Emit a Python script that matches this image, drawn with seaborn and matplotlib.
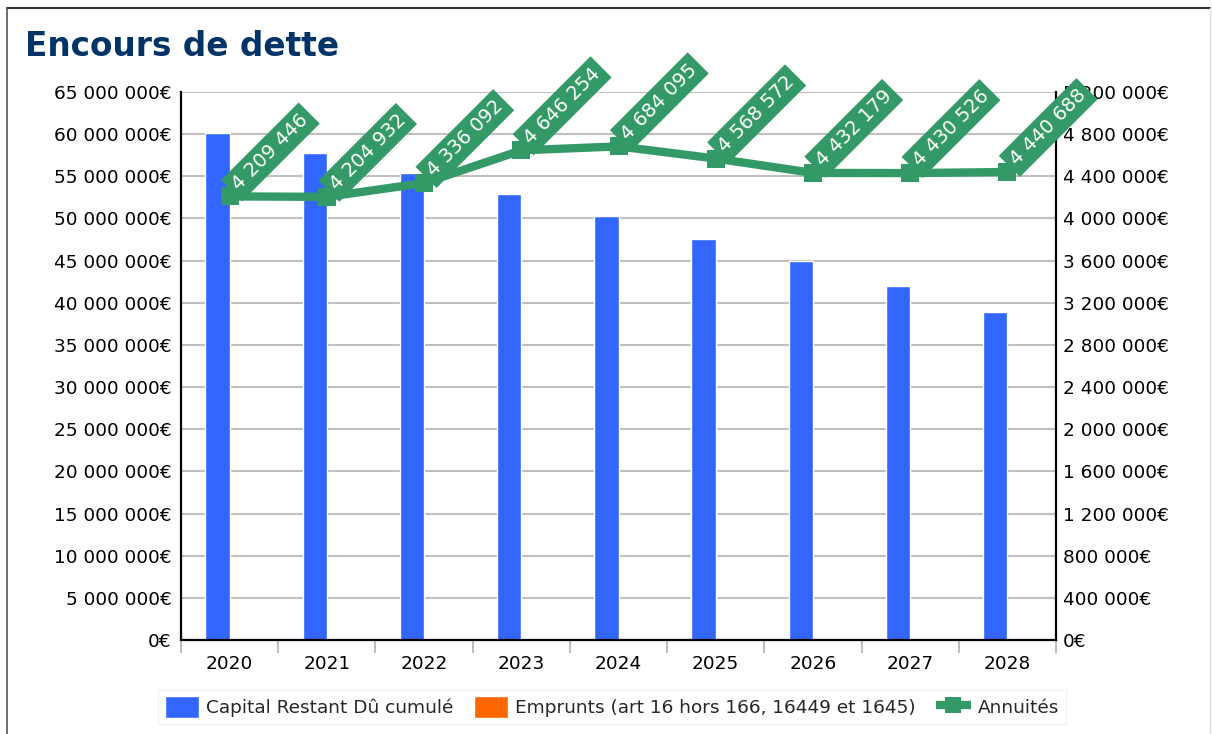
import numpy as np
import pandas as pd
import seaborn as sns
import matplotlib.pyplot as plt
from matplotlib.ticker import FuncFormatter, MultipleLocator, FixedLocator
from matplotlib.lines import Line2D

# données
annees = ['2020', '2021', '2022', '2023', '2024', '2025', '2026', '2027', '2028']
capital = [60.1e6, 57.75e6, 55.4e6, 52.9e6, 50.3e6, 47.6e6, 44.9e6, 42.0e6, 38.95e6]
emprunts = [0, 0, 0, 0, 0, 0, 0, 0, 0]
annuites = [4209446, 4204932, 4336092, 4646254, 4684095, 4568572, 4432179, 4430526, 4440688]
series = ['Capital Restant Dû cumulé', 'Emprunts (art 16 hors 166, 16449 et 1645)']

bleu = '#3366ff'
orange = '#ff6600'
vert = '#339966'
taille = 13.3

sns.set_theme(style='white')
plt.rcParams['font.family'] = ['DejaVu Sans']

df = pd.DataFrame({
    'annee': annees * 2,
    'serie': [series[0]] * len(annees) + [series[1]] * len(annees),
    'valeur': capital + emprunts,
})

def euros(v, pos):
    return f"{int(round(v)):,}".replace(',', ' ') + '€'

fig = plt.figure(figsize=(12.12, 7.34), dpi=100)
ax = fig.add_axes([181 / 1212, 1 - 640 / 734, (1056 - 181) / 1212, (640 - 92) / 734])

sns.barplot(data=df, x='annee', y='valeur', hue='serie', palette=[bleu, orange],
            width=0.5, saturation=1, errorbar=None, ax=ax)
ax.set_ylim(0, 65e6)
ax.set_xlim(-0.5, len(annees) - 0.5)
ax.yaxis.set_major_locator(MultipleLocator(5e6))
ax.yaxis.set_major_formatter(FuncFormatter(euros))
ax.set_axisbelow(True)
ax.grid(axis='y', color='#c0c0c0', lw=1.5)
ax.set_xlabel('')
ax.set_ylabel('')

# graduations entre les catégories
ax.xaxis.set_minor_locator(FixedLocator(np.arange(-0.5, len(annees), 1)))
ax.tick_params(axis='x', which='major', length=0, pad=11, labelsize=taille, colors='black')
ax.tick_params(axis='x', which='minor', length=9, width=1.2, color='#b0b0b0', bottom=True)
ax.tick_params(axis='y', length=0, pad=7, labelsize=taille, colors='black')
for s in ['left', 'bottom']:
    ax.spines[s].set_color('black')
    ax.spines[s].set_linewidth(1.6)
ax.spines['top'].set_visible(False)
ax.spines['right'].set_visible(False)

ax2 = ax.twinx()
sns.lineplot(x=np.arange(len(annees)), y=annuites, ax=ax2, color=vert, lw=6,
             marker='s', markersize=13, markeredgewidth=0, label='Annuités')
ax2.set_ylim(0, 5.2e6)
ax2.yaxis.set_major_locator(MultipleLocator(4e5))
ax2.yaxis.set_major_formatter(FuncFormatter(euros))
ax2.tick_params(axis='y', length=0, pad=5, labelsize=taille, colors='black')
for s in ['left', 'top', 'bottom']:
    ax2.spines[s].set_visible(False)
ax2.spines['right'].set_color('black')
ax2.spines['right'].set_linewidth(1.6)

for i, v in enumerate(annuites):
    ax2.annotate(f"{v:,}".replace(',', ' '), xy=(i, v), xytext=(9, 2),
                 textcoords='offset points', rotation=45, rotation_mode='anchor',
                 ha='left', va='bottom', color='white', fontsize=14,
                 bbox=dict(boxstyle='square,pad=0.28', fc=vert, ec='none'),
                 zorder=6, annotation_clip=False)

# légende commune en bas
h1, l1 = ax.get_legend_handles_labels()
ax.get_legend().remove()
ax2.get_legend().remove()
h2 = Line2D([], [], color=vert, lw=6, marker='s', markersize=11, markeredgewidth=0,
            solid_capstyle='butt')
fig.legend(h1 + [h2], l1 + ['Annuités'], loc='center', ncol=3,
           bbox_to_anchor=(612 / 1212, 1 - 707 / 734), fontsize=taille,
           frameon=True, fancybox=False, edgecolor='#eeeeee',
           handlelength=1.85, handleheight=1.4, handletextpad=0.4,
           columnspacing=1.1, borderpad=0.35)

fig.text(25 / 1212, 1 - 47 / 734, 'Encours de dette', fontsize=23.6, fontweight='bold',
         color='#003366', va='center', ha='left')

# cadre autour de la figure
fig.add_artist(Line2D([7 / 1212, 1210 / 1212], [1 - 8 / 734, 1 - 8 / 734], color='#333333', lw=1.5))
fig.add_artist(Line2D([7 / 1212, 7 / 1212], [0, 1 - 8 / 734], color='#555555', lw=1.2))
fig.add_artist(Line2D([1210 / 1212, 1210 / 1212], [0, 1 - 8 / 734], color='#dddddd', lw=1.0))

fig.savefig('out.png', dpi=100)
